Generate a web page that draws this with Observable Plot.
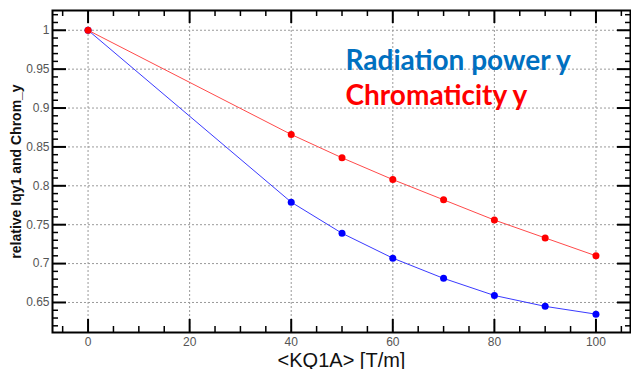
<!DOCTYPE html>
<html><head><meta charset="utf-8">
<script src="https://cdn.jsdelivr.net/npm/d3@7"></script>
<script src="https://cdn.jsdelivr.net/npm/@observablehq/plot@0.6"></script>
<style>body{margin:0;background:#fff}</style>
</head><body><div id="chart"></div>
<script>
// Data
const kq1a = [0, 40, 50, 60, 70, 80, 90, 100];
const chromY = [1, 0.866, 0.836, 0.808, 0.782, 0.756, 0.733, 0.710];
const radPowerY = [1, 0.779, 0.739, 0.707, 0.681, 0.659, 0.645, 0.635];
const xMajorTicks = [0, 20, 40, 60, 80, 100];
const yMajorTicks = [0.65, 0.7, 0.75, 0.8, 0.85, 0.9, 0.95, 1];
const xMinorTicks = [-5, 5, 10, 15, 25, 30, 35, 45, 50, 55, 65, 70, 75, 85, 90, 95, 105];
const yMinorTicks = [0.62, 0.63, 0.64, 0.66, 0.67, 0.68, 0.69, 0.71, 0.72, 0.73, 0.74, 0.76, 0.77, 0.78, 0.79, 0.81, 0.82, 0.83, 0.84, 0.86, 0.87, 0.88, 0.89, 0.91, 0.92, 0.93, 0.94, 0.96, 0.97, 0.98, 0.99, 1.01, 1.02];
const legendLabels = ["Radiation power y", "Chromaticity y"];
const xLabel = "<KQ1A> [T/m]";
const yLabel = "relative Iqy1 and Chrom_y";

const W = 631, H = 369, ML = 52, MR = 1, MT = 10, MB = 37;
const IW = W - ML - MR, IH = H - MT - MB;

const rad = kq1a.map((x, i) => ({x, y: radPowerY[i]}));
const chrom = kq1a.map((x, i) => ({x, y: chromY[i]}));

const chart = Plot.plot({
  width: W, height: H,
  marginLeft: ML, marginRight: MR, marginTop: MT, marginBottom: MB,
  style: {fontFamily: "'Liberation Sans', Arial, sans-serif", background: "#fff"},
  x: {domain: [-7, 106.8]},
  y: {domain: [0.6114, 1.0254]},
  marks: [
    Plot.gridX(xMajorTicks, {stroke: "#9a9a9a", strokeOpacity: 1, strokeDasharray: "2,2"}),
    Plot.gridY(yMajorTicks, {stroke: "#9a9a9a", strokeOpacity: 1, strokeDasharray: "2,2"}),
    // inward ticks: bottom / top
    Plot.tickX(xMinorTicks, {x: d => d, insetTop: IH - 6, stroke: "#000", strokeWidth: 1.5}),
    Plot.tickX(xMajorTicks, {x: d => d, insetTop: IH - 13, stroke: "#000", strokeWidth: 2}),
    Plot.tickX(xMinorTicks, {x: d => d, insetBottom: IH - 6, stroke: "#000", strokeWidth: 1.5}),
    Plot.tickX(xMajorTicks, {x: d => d, insetBottom: IH - 13, stroke: "#000", strokeWidth: 2}),
    // inward ticks: left / right
    Plot.tickY(yMinorTicks, {y: d => d, insetRight: IW - 6, stroke: "#000", strokeWidth: 1.5}),
    Plot.tickY(yMajorTicks, {y: d => d, insetRight: IW - 14, stroke: "#000", strokeWidth: 2}),
    Plot.tickY(yMinorTicks, {y: d => d, insetLeft: IW - 5, stroke: "#000", strokeWidth: 1.5}),
    Plot.tickY(yMajorTicks, {y: d => d, insetLeft: IW - 13, stroke: "#000", strokeWidth: 2}),
    Plot.frame({stroke: "#000", strokeWidth: 2}),
    Plot.axisX(xMajorTicks, {tickSize: 0, tickPadding: 5, fontSize: 12, color: "#555", label: null}),
    Plot.axisY(yMajorTicks, {tickSize: 0, tickPadding: 3, fontSize: 12, color: "#555", label: null, tickFormat: d => String(d)}),
    // series
    Plot.line(rad, {x: "x", y: "y", stroke: "#3a3aff", strokeWidth: 1}),
    Plot.dot(rad, {x: "x", y: "y", r: 3.5, fill: "#0000ff"}),
    Plot.line(chrom, {x: "x", y: "y", stroke: "#ff4a4a", strokeWidth: 1}),
    Plot.dot(chrom, {x: "x", y: "y", r: 3.5, fill: "#ff0000"}),
    // legend
    Plot.text([legendLabels[0]], {frameAnchor: "top-left", dx: 293, dy: 59, lineAnchor: "bottom", textAnchor: "start",
      fill: "#0070c0", fontSize: 28, fontWeight: "bold", fontFamily: "Lato, sans-serif"}),
    Plot.text([legendLabels[1]], {frameAnchor: "top-left", dx: 293, dy: 94, lineAnchor: "bottom", textAnchor: "start",
      fill: "#ff0000", fontSize: 28, fontWeight: "bold", fontFamily: "Lato, sans-serif"}),
    // axis labels
    Plot.text([xLabel], {frameAnchor: "bottom", dy: 34, fontSize: 20, fill: "#111", lineAnchor: "bottom", textAnchor: "middle"}),
    Plot.text([yLabel], {frameAnchor: "left", dx: -35.5, dy: 0, rotate: -90, fontSize: 14, fontWeight: "bold", fill: "#111", lineAnchor: "middle", textAnchor: "middle"})
  ]
});
document.getElementById("chart").appendChild(chart);
</script>
</body></html>
